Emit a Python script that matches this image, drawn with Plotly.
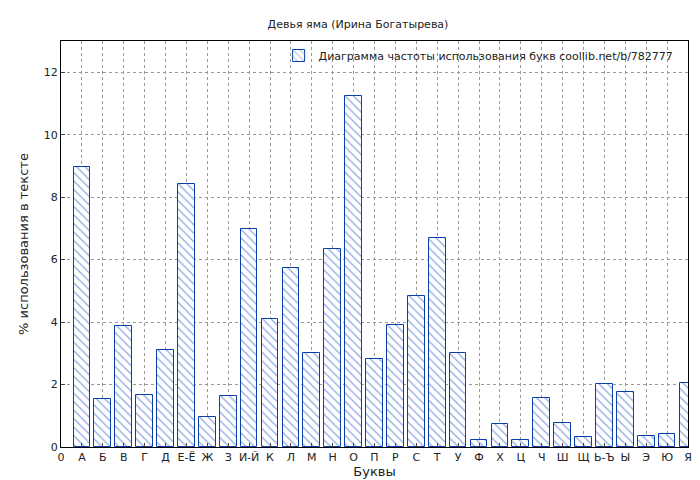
import plotly.graph_objects as go

letters = ["А","Б","В","Г","Д","Е-Ё","Ж","З","И-Й","К","Л","М","Н","О","П","Р","С","Т","У","Ф","Х","Ц","Ч","Ш","Щ","Ь-Ъ","Ы","Э","Ю","Я"]
values = [8.96,1.54,3.87,1.66,3.1,8.42,0.96,1.63,6.98,4.1,5.73,3.0,6.34,11.23,2.82,3.9,4.83,6.69,3.0,0.22,0.74,0.22,1.57,0.77,0.32,2.02,1.76,0.35,0.42,2.05]
positions = list(range(1, len(letters) + 1))
tick_vals = [0] + positions
tick_text = ["0"] + letters

fig = go.Figure(go.Bar(
    x=positions, y=values, width=0.8,
    name="Диаграмма частоты использования букв coollib.net/b/782777",
    marker=dict(color="white", line=dict(color="#0b3fa8", width=1),
                pattern=dict(shape="\\", fgcolor="#1450c8", size=6, solidity=0.2)),
))
fig.update_layout(
    width=700, height=480, plot_bgcolor="white", paper_bgcolor="white",
    font=dict(family="DejaVu Sans", size=11, color="#222"),
    margin=dict(l=53, r=20, t=33, b=41, autoexpand=False),
    title=dict(text="Девья яма (Ирина Богатырева)", x=0.5, y=0.975, xanchor="center", font=dict(size=11)),
    showlegend=True,
    legend=dict(x=0.985, y=1.0, xanchor="right", yanchor="top", bgcolor="rgba(0,0,0,0)", font=dict(size=11),
                itemwidth=30),
    bargap=0,
)
fig.update_xaxes(range=[0, 30], tickvals=tick_vals, ticktext=tick_text, title=dict(text="Буквы", standoff=2),
                 showgrid=True, gridcolor="#999", griddash="dot", showline=True, linecolor="black", mirror=True,
                 ticks="inside", ticklen=4, automargin=False)
fig.update_yaxes(range=[0, 13], dtick=2, title=dict(text="% использования в тексте", standoff=12),
                 showgrid=True, gridcolor="#999", griddash="dot", showline=True, linecolor="black", mirror=True,
                 ticks="inside", ticklen=4, zeroline=False, automargin=False)
fig.write_html("out.html")
